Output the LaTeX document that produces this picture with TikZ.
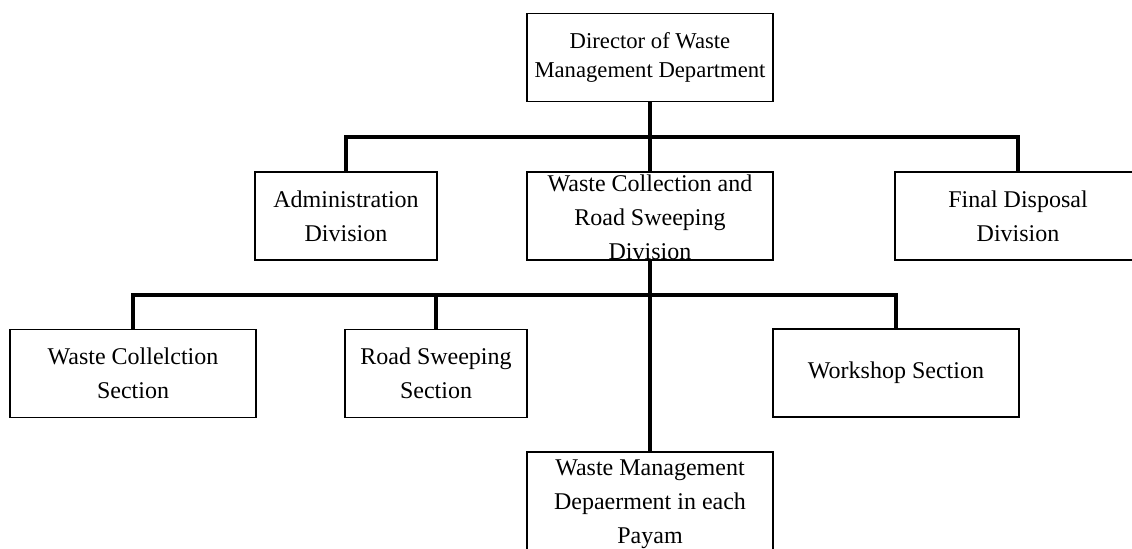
\documentclass[tikz,border=0pt]{standalone}
\usepackage{fontspec}
\setmainfont{Liberation Serif}

\begin{document}
\begin{tikzpicture}[x=0.75pt, y=-0.75pt,
    unit/.style={draw, rectangle, line width=1.4pt, align=center, inner sep=0pt,
      minimum height=66pt, font=\fontsize{18}{25.5}\selectfont},
    wide/.style={minimum width=184.5pt},
    narrow/.style={minimum width=136.5pt},
    link/.style={draw, line width=2.6pt}]
  \useasboundingbox (0, 0) rectangle (1132, 549);

  \node[unit, wide, font=\fontsize{17}{21.75}\selectfont] at (650, 57.5) (director) {Director of Waste\\Management Department};

  \node[unit, narrow] at (346, 216) (admin) {Administration\\Division};
  \node[unit, wide] at (650, 216) (collection) {};
  \node[anchor=north, inner sep=0pt, align=center, font=\fontsize{18}{25.5}\selectfont] at (650, 175) (collectiontext) {Waste Collection and\\Road Sweeping\\Division};
  \node[unit, wide] at (1018, 216) (disposal) {Final Disposal\\Division};

  \node[unit, wide] at (133, 373.5) (colsection) {Waste Collelction\\Section};
  \node[unit, narrow] at (436, 373.5) (sweeping) {Road Sweeping\\Section};
  \node[unit, wide] at (896, 373) (workshop) {Workshop Section};
  \node[unit, wide, minimum height=81pt] at (650, 506) (payam) {};
  \node[anchor=north, inner sep=0pt, align=center, font=\fontsize{18}{25.5}\selectfont] at (650, 460) (payamtext) {Waste Management\\Depaerment in each\\Payam};

  \coordinate (topbar) at (650, 137);
  \coordinate (midbar) at (650, 295);

  \draw[link] (director.south) -- (topbar) -- (collection.north);
  \draw[link] (admin.north) |- (topbar) -| (disposal.north);
  \draw[link] (collection.south) -- (midbar) -- (payam.north);
  \draw[link] (colsection.north) |- (midbar) -| (workshop.north);
  \draw[link] (sweeping.north) -- (sweeping.north |- midbar);
\end{tikzpicture}
\end{document}
